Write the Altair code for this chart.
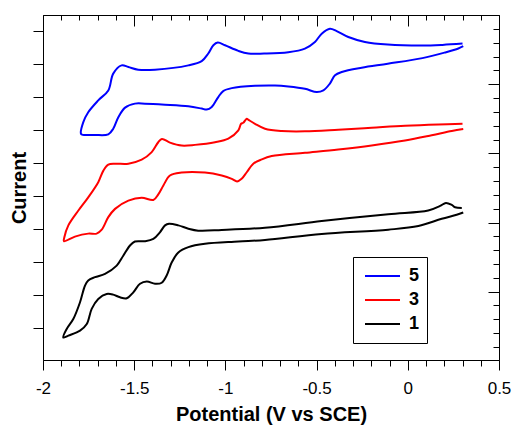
import altair as alt
import pandas as pd

# ---- data (potential in V vs SCE, current in arbitrary offset units)
series = ["5", "3", "1"]
colors = ["#0000ff", "#ff0000", "#000000"]

E_5 = [0.30, 0.19, 0.08, -0.11, -0.235, -0.326, -0.39, -0.427, -0.472, -0.509, -0.564, -0.655,
       -0.788, -0.874, -0.929, -1.002, -1.042, -1.066, -1.094, -1.13, -1.203, -1.386, -1.478,
       -1.532, -1.569, -1.615, -1.642, -1.697, -1.752, -1.779, -1.792, -1.786, -1.715, -1.642,
       -1.615, -1.587, -1.55, -1.496, -1.441, -1.331, -1.203, -1.13, -1.103, -1.075, -1.039,
       -1.012, -0.965, -0.838, -0.728, -0.655, -0.564, -0.499, -0.463, -0.427, -0.399, -0.362,
       -0.253, -0.11, 0.08, 0.204, 0.277, 0.304]
I_5 = [8.62, 8.58, 8.56, 8.59, 8.67, 8.82, 9.00, 9.07, 8.92, 8.67, 8.47, 8.36, 8.32, 8.32, 8.40,
       8.57, 8.65, 8.57, 8.32, 8.09, 7.96, 7.83, 7.83, 7.91, 7.96, 7.71, 7.20, 6.90, 6.54, 6.24,
       5.89, 5.86, 5.85, 5.87, 6.04, 6.39, 6.68, 6.80, 6.80, 6.77, 6.72, 6.65, 6.62, 6.70, 7.00,
       7.18, 7.27, 7.34, 7.35, 7.32, 7.25, 7.15, 7.20, 7.41, 7.66, 7.76, 7.89, 8.01, 8.18, 8.35,
       8.47, 8.54]

E_3 = [0.30, 0.167, -0.015, -0.198, -0.381, -0.564, -0.691, -0.783, -0.838, -0.874, -0.883,
       -0.902, -0.914, -0.929, -0.984, -1.057, -1.167, -1.24, -1.304, -1.348, -1.368, -1.404,
       -1.459, -1.532, -1.605, -1.642, -1.669, -1.697, -1.752, -1.806, -1.861, -1.883, -1.885,
       -1.825, -1.752, -1.706, -1.678, -1.642, -1.605, -1.532, -1.459, -1.395, -1.368, -1.34,
       -1.304, -1.24, -1.112, -1.02, -0.965, -0.936, -0.911, -0.883, -0.847, -0.801, -0.746,
       -0.564, -0.381, -0.198, -0.015, 0.131, 0.241, 0.304]
I_3 = [6.19, 6.17, 6.13, 6.07, 6.01, 5.96, 5.97, 6.04, 6.19, 6.31, 6.34, 6.22, 6.19, 5.99, 5.74,
       5.63, 5.55, 5.53, 5.62, 5.73, 5.63, 5.33, 5.10, 4.98, 4.98, 4.95, 4.77, 4.42, 3.96, 3.56,
       3.11, 2.75, 2.63, 2.77, 2.86, 2.86, 2.98, 3.36, 3.61, 3.86, 3.95, 3.88, 4.05, 4.32, 4.62,
       4.71, 4.71, 4.62, 4.52, 4.44, 4.52, 4.72, 4.98, 5.11, 5.21, 5.31, 5.41, 5.53, 5.68, 5.84,
       5.97, 6.03]

E_1 = [0.296, 0.259, 0.241, 0.209, 0.177, 0.112, -0.107, -0.472, -0.783, -1.02, -1.149, -1.203,
       -1.258, -1.309, -1.331, -1.359, -1.395, -1.441, -1.496, -1.523, -1.56, -1.596, -1.66,
       -1.715, -1.752, -1.77, -1.797, -1.834, -1.87, -1.889, -1.861, -1.797, -1.76, -1.733,
       -1.697, -1.651, -1.615, -1.578, -1.541, -1.505, -1.468, -1.431, -1.386, -1.349, -1.322,
       -1.294, -1.258, -1.203, -1.112, -0.929, -0.783, -0.472, -0.107, 0.058, 0.186, 0.268, 0.304]
I_1 = [3.64, 3.66, 3.73, 3.79, 3.70, 3.56, 3.45, 3.24, 3.04, 2.97, 2.95, 3.01, 3.11, 3.16, 3.11,
       2.90, 2.70, 2.63, 2.62, 2.50, 2.19, 1.89, 1.64, 1.54, 1.44, 1.28, 0.78, 0.27, -0.03, -0.29,
       -0.23, -0.08, 0.12, 0.58, 0.88, 1.03, 1.01, 0.93, 0.90, 1.08, 1.34, 1.41, 1.34, 1.37, 1.59,
       1.99, 2.29, 2.45, 2.55, 2.62, 2.67, 2.85, 2.98, 3.09, 3.31, 3.43, 3.50]

# ---- tick positions
x_major = [-2.0, -1.5, -1.0, -0.5, 0.0, 0.5]
x_minor = [-2.0, -1.9, -1.8, -1.7, -1.6, -1.5, -1.4, -1.3, -1.2, -1.1, -1.0, -0.9, -0.8, -0.7,
           -0.6, -0.5, -0.4, -0.3, -0.2, -0.1, 0.0, 0.1, 0.2, 0.3, 0.4, 0.5]
y_left = [0, 1, 2, 3, 4, 5, 6, 7, 8, 9]
y_right_major = [1.102, 3.197, 5.292, 7.387]
y_right_minor = [-0.574, -0.155, 0.264, 0.683, 1.102, 1.521, 1.94, 2.359, 2.778, 3.197, 3.616,
                 4.035, 4.454, 4.873, 5.292, 5.711, 6.13, 6.549, 6.968, 7.387, 7.806, 8.225,
                 8.644, 9.063]
x_domain = [-2.0, 0.5]
y_domain = [-0.971, 9.487]

rows = []
for name, es, cs in zip(series, [E_5, E_3, E_1], [I_5, I_3, I_1]):
    for i, (e, c) in enumerate(zip(es, cs)):
        rows.append({"complex": name, "E": e, "I": c, "step": i})
df = pd.DataFrame(rows)

F = "Liberation Sans"
xs = alt.Scale(domain=x_domain, nice=False, zero=False)
ys = alt.Scale(domain=y_domain, nice=False, zero=False)

common = dict(domain=False, grid=False, tickColor="black", tickWidth=1)

ax_bottom = alt.Axis(orient="bottom", values=x_major, tickSize=10, labelFont=F, labelFontSize=17,
                     labelColor="black", labelPadding=10, labelFlush=False, labelOverlap=False,
                     format="~g", labelExpr="replace(datum.label, '−', '-')",
                     title="Potential (V vs SCE)", titleFont=F, titleFontSize=20,
                     titleFontWeight="bold", titleColor="black", titlePadding=8, **common)
ax_bottom_minor = alt.Axis(orient="bottom", values=x_minor, tickSize=6, labels=False, title=None, **common)
ax_top_major = alt.Axis(orient="top", values=x_major, tickSize=11, offset=-11, labels=False, title=None, **common)
ax_top_minor = alt.Axis(orient="top", values=x_minor, tickSize=5, offset=-5, labels=False, title=None, **common)
ax_left = alt.Axis(orient="left", values=y_left, tickSize=10, labels=False, title="Current",
                   titleFont=F, titleFontSize=20, titleFontWeight="bold", titleColor="black",
                   titlePadding=3, **common)
ax_right_major = alt.Axis(orient="right", values=y_right_major, tickSize=11, offset=-11, labels=False, title=None, **common)
ax_right_minor = alt.Axis(orient="right", values=y_right_minor, tickSize=6, offset=-6, labels=False, title=None, **common)

leg = alt.Legend(orient="none", legendX=310, legendY=242, title=None, symbolType="stroke",
                 symbolSize=1225, symbolStrokeWidth=2, clipHeight=24, rowPadding=0,
                 labelFont=F, labelFontSize=18, labelFontWeight="bold", labelColor="black",
                 strokeColor="black", fillColor="white", padding=7, labelOffset=8, symbolOffset=4)

base = alt.Chart(df)

curves = base.mark_line(strokeWidth=2, strokeJoin="round", interpolate="catmull-rom").encode(
    x=alt.X("E:Q", scale=xs, axis=ax_bottom),
    y=alt.Y("I:Q", scale=ys, axis=ax_left),
    color=alt.Color("complex:N", scale=alt.Scale(domain=series, range=colors), legend=leg),
    order=alt.Order("step:Q"),
)
frame_major = base.mark_point(opacity=0).encode(
    x=alt.X("E:Q", scale=xs, axis=ax_top_major),
    y=alt.Y("I:Q", scale=ys, axis=ax_right_major),
)
frame_minor = base.mark_point(opacity=0).encode(
    x=alt.X("E:Q", scale=xs, axis=ax_top_minor),
    y=alt.Y("I:Q", scale=ys, axis=ax_right_minor),
)
bottom_minor = base.mark_point(opacity=0).encode(
    x=alt.X("E:Q", scale=xs, axis=ax_bottom_minor),
    y=alt.Y("I:Q", scale=ys, axis=None),
)

chart = (
    alt.layer(curves, frame_major, frame_minor, bottom_minor)
    .resolve_axis(x="independent", y="independent")
    .properties(width=456, height=345, autosize=alt.AutoSizeParams(type="none"),
                padding={"left": 43, "top": 15, "right": 15, "bottom": 66},
                background="white")
    .configure_view(stroke="black", strokeWidth=1)
)

chart.save("out.html", embed_options={"renderer": "svg", "actions": False})
